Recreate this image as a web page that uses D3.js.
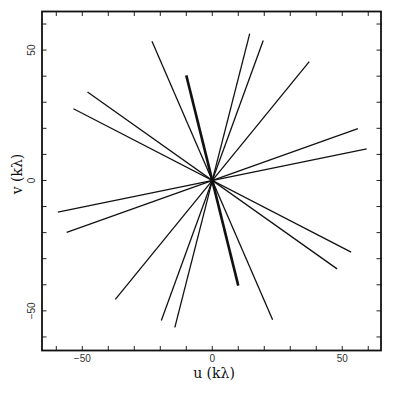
<!DOCTYPE html>
<html>
<head>
<meta charset="utf-8">
<script src="https://cdn.jsdelivr.net/npm/d3@7"></script>
<style>
  body { margin: 0; background: #fff; }
  .tickLabel { font-family: "Liberation Sans", Arial, sans-serif; font-size: 10px; fill: #333; }
  .axisTitle { font-family: "DejaVu Serif", serif; font-size: 14px; fill: #111; }
</style>
</head>
<body>
<script>
//wrap everything in an IIFE so nothing lands in global scope
(function (){

    //baseline track end points (u, v in kilo-lambda); each track is drawn from (-u,-v) to (u,v)
    var baselines = ["b1", "b2", "b3", "b4", "b5", "b6", "b7", "b8", "b9"];
    var uEnd = [23.2, 10.0, 48.0, 53.4, 14.4, 19.6, 37.3, 56.0, 59.4];
    var vEnd = [-53.4, -40.3, -33.9, -27.5, 56.3, 53.7, 45.6, 19.9, 12.1];
    var boldBaseline = "b2"; //the one drawn with a heavier pen

    //tick values
    var tickVals = d3.range(-60, 61, 10);
    var labelVals = [-50, 0, 50];

    var width = 399, height = 397;

    var svg = d3.select("body")
        .append("svg")
        .attr("width", width)
        .attr("height", height);

    //scales, equal aspect (2.6 px per k-lambda)
    var x = d3.scaleLinear()
        .domain([-65.5, 64.9])
        .range([42, 381]);

    var y = d3.scaleLinear()
        .domain([-65.2, 64.8])
        .range([350.5, 11.5]);

    var x0 = x.range()[0], x1 = x.range()[1],
        y0 = y.range()[0], y1 = y.range()[1];

    //uv tracks
    var tracks = baselines.map(function(b, i){
        return {name: b, u: uEnd[i], v: vEnd[i]};
    });

    svg.selectAll(".track")
        .data(tracks)
        .enter()
        .append("line")
        .attr("class", "track")
        .attr("x1", function(d){ return x(-d.u); })
        .attr("y1", function(d){ return y(-d.v); })
        .attr("x2", function(d){ return x(d.u); })
        .attr("y2", function(d){ return y(d.v); })
        .style("stroke", "#111")
        .style("stroke-width", function(d){ return d.name == boldBaseline ? 2.6 : 1.3; });

    //inward ticks on all four sides
    var tl = 4.5;
    var g = svg.append("g").style("stroke", "#222").style("stroke-width", 1);

    tickVals.forEach(function(t){
        g.append("line").attr("x1", x(t)).attr("x2", x(t)).attr("y1", y0).attr("y2", y0 - tl);
        g.append("line").attr("x1", x(t)).attr("x2", x(t)).attr("y1", y1).attr("y2", y1 + tl);
        g.append("line").attr("y1", y(t)).attr("y2", y(t)).attr("x1", x0).attr("x2", x0 + tl);
        g.append("line").attr("y1", y(t)).attr("y2", y(t)).attr("x1", x1).attr("x2", x1 - tl);
    });

    //frame
    svg.append("rect")
        .attr("x", x0)
        .attr("y", y1)
        .attr("width", x1 - x0)
        .attr("height", y0 - y1)
        .style("fill", "none")
        .style("stroke", "#111")
        .style("stroke-width", 1.8);

    var fmt = d3.format("d");

    //bottom tick labels
    svg.selectAll(".xLab")
        .data(labelVals)
        .enter()
        .append("text")
        .attr("class", "tickLabel")
        .attr("text-anchor", "middle")
        .attr("x", function(d){ return x(d); })
        .attr("y", y0 + 11)
        .text(function(d){ return fmt(d); });

    //left tick labels, rotated
    svg.selectAll(".yLab")
        .data(labelVals)
        .enter()
        .append("text")
        .attr("class", "tickLabel")
        .attr("text-anchor", "middle")
        .attr("transform", function(d){ return "translate(35," + y(d) + ") rotate(-90)"; })
        .text(function(d){ return fmt(d); });

    //axis titles
    svg.append("text")
        .attr("class", "axisTitle")
        .attr("text-anchor", "middle")
        .attr("x", 214)
        .attr("y", 377.5)
        .text("u  (kλ)");

    svg.append("text")
        .attr("class", "axisTitle")
        .attr("text-anchor", "middle")
        .attr("transform", "translate(22,174) rotate(-90)")
        .text("v  (kλ)");

})();
</script>
</body>
</html>
